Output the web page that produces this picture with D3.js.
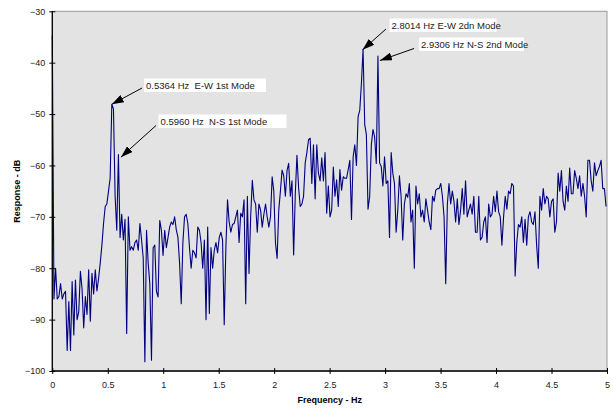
<!DOCTYPE html>
<html>
<head>
<meta charset="utf-8">
<script src="https://cdn.jsdelivr.net/npm/d3@7"></script>
<style>
  body { margin: 0; background: #fff; }
  svg { display: block; font-family: Arial, "Liberation Sans", sans-serif; }
</style>
</head>
<body>
<svg id="chart" width="613" height="408"></svg>
<script>
// Spectrum sampled every STEP Hz, starting at 0 Hz
const STEP = 0.0149;

// Response in dB, one value per frequency bin
const response = [
  -34.7, -86, -80, -86, -85.5, -83, -86, -85, -84.5, -96,
  -86.5, -96, -82.6, -93, -82.3, -90, -88.5, -80.6, -84, -91.6,
  -85.5, -89, -80.3, -90.3, -81, -85, -80.3, -84.4, -82, -79,
  -75.5, -71.3, -68, -67.5, -65, -62.5, -48.1, -49, -66, -72.6,
  -57.9, -74, -69.5, -74.5, -70.5, -92.7, -70, -76.5, -75.8, -76.5,
  -75, -74.5, -76.5, -71.3, -74.5, -78, -98.2, -72.6, -79, -83,
  -97.9, -76, -75.5, -84.5, -85.6, -70.7, -72.6, -77.5,
  // 1 - 2 Hz
  -72.6, -76, -74, -72, -71, -71.5, -70, -72.5, -74, -79,
  -86.9, -75, -70, -69.5, -71.3, -76, -80, -76.5, -77, -78,
  -72, -72.6, -75, -80, -74.5, -90, -72, -88.8, -76, -80,
  -76.5, -75, -77, -74, -73, -74.5, -91, -76, -66.7, -71,
  -73, -71.5, -71.3, -70, -68.7, -75, -69.3, -70, -66.7, -86.9,
  -66, -81, -70, -62.9, -66.7, -67.5, -73, -67.5, -68.7, -72,
  -69.5, -67.5, -70, -72, -70, -62.2, -65,
  // 2 - 3 Hz
  -75, -78.1, -68.7, -65, -60.9, -62, -66, -61, -59.6, -66,
  -63, -77.4, -65.5, -58, -64.3, -68, -67.5, -66, -59.5, -57.5,
  -55, -54.7, -63.5, -56, -66.5, -56, -61.5, -63, -58.5, -63,
  -57.5, -69.3, -64, -70, -68.7, -60.3, -66, -62.8, -68, -60.8,
  -64.8, -62.2, -62.5, -62.5, -60.8, -59, -70.5, -58.3, -56, -60,
  -50.5, -49.3, -44, -37.4, -52, -54, -68.5, -66, -56, -53,
  -54.5, -59.6, -38.7, -59.5, -60.2, -64, -58.3,
  // 3 - 4 Hz
  -63.5, -63, -74, -57.5, -61.5, -63.5, -73, -68.7, -62, -66,
  -74.5, -67.5, -65.5, -66.2, -63.5, -71, -68.7, -80, -64, -67.5,
  -65.5, -70, -68.7, -71, -66.5, -68.7, -71, -72.5, -66, -67,
  -64.8, -64.5, -64.5, -63.5, -66, -70, -83, -67.5, -63.5, -67.5,
  -65, -67, -71, -66.5, -71.5, -68.7, -64.5, -69.5, -63, -70,
  -68.7, -67.5, -69.5, -66, -73, -73, -66, -74.5, -74, -71,
  -70, -75, -67.5, -70, -69.5, -66, -69,
  // 4 - 5 Hz
  -65, -69, -70, -75.5, -70, -66, -68.5, -65, -65.5, -63.5,
  -64, -81.5, -75, -71.5, -72, -70, -75, -70.5, -75.5, -70,
  -69, -71, -71.5, -69, -75.5, -80, -66, -68.7, -64.5, -67.5,
  -66, -66.5, -70, -67, -66.5, -73, -71, -61.5, -65, -61,
  -67, -68.7, -64, -67, -60.5, -65.5, -65.5, -61, -62.5, -64.5,
  -62, -66, -63.5, -66, -70, -59, -59, -63, -65, -59.5,
  -62, -61, -60.2, -59, -64.5, -64.5, -68
];

// Axis ticks
const xTicks = [0, 0.5, 1, 1.5, 2, 2.5, 3, 3.5, 4, 4.5, 5];
const yTicks = [-30, -40, -50, -60, -70, -80, -90, -100];

// Peak call-outs
const peakFreqs = [0.5364, 0.5960, 2.8014, 2.9306];
const peakDb = [-48.1, -57.9, -37.4, -38.7];
const peakLabels = [
  "0.5364 Hz  E-W 1st Mode",
  "0.5960 Hz  N-S 1st Mode",
  "2.8014 Hz E-W 2dn Mode",
  "2.9306 Hz N-S 2nd Mode"
];
// label box position (left, top, width) and arrow tail / tip nudge
const calloutLayout = [
  { bx: 144, by: 78.5, bw: 122, tx: 142, ty: 88, dx: 0, dy: 0 },
  { bx: 158.5, by: 114.5, bw: 128, tx: 156, ty: 125.5, dx: 2.5, dy: 2.5 },
  { bx: 389.5, by: 18.5, bw: 107, tx: 386, ty: 29, dx: -0.5, dy: 0.5 },
  { bx: 419, by: 37.5, bw: 105, tx: 414, ty: 48.5, dx: 2.5, dy: 4.5 }
];

const LEFT = 52.3, RIGHT = 607, TOP = 11.3, BOTTOM = 371;

const svg = d3.select("#chart");

const x = d3.scaleLinear().domain([0, 5]).range([LEFT, RIGHT]);
const y = d3.scaleLinear().domain([-100, -30]).range([BOTTOM, TOP]);

// plot area
svg.append("rect")
  .attr("x", LEFT).attr("y", TOP)
  .attr("width", RIGHT - LEFT).attr("height", BOTTOM - TOP)
  .attr("fill", "#e3e3e3")
  .attr("stroke", "#999")
  .attr("stroke-width", 1);

// the spectrum
const pts = response.map((v, i) => [i * STEP, v]);
const line = d3.line().x((d) => x(d[0])).y((d) => y(d[1]));

svg.append("path")
  .datum(pts)
  .attr("d", line)
  .attr("fill", "none")
  .attr("stroke", "#000080")
  .attr("stroke-width", 1.1)
  .attr("stroke-linejoin", "round");

// axes with ticks crossing the line
const yAxis = svg.append("g")
  .attr("transform", `translate(${LEFT},0)`)
  .call(d3.axisLeft(y).tickValues(yTicks).tickSize(3).tickPadding(4).tickFormat(d3.format("d")));
yAxis.selectAll(".tick line").attr("x1", 3).attr("x2", -3).attr("stroke", "#000");
yAxis.select(".domain").attr("stroke", "#000").attr("stroke-width", 1.3).attr("d", `M0,${TOP}V${BOTTOM}`);
yAxis.selectAll("text").attr("x", -7).style("font-size", "9px").attr("fill", "#222");

const xAxis = svg.append("g")
  .attr("transform", `translate(0,${BOTTOM})`)
  .call(d3.axisBottom(x).tickValues(xTicks).tickSize(3).tickFormat(d3.format("")));
xAxis.selectAll(".tick line").attr("y1", -3).attr("y2", 3).attr("stroke", "#000");
xAxis.select(".domain").attr("stroke", "#000").attr("stroke-width", 1.3).attr("d", `M${LEFT},0H${RIGHT}`);
xAxis.selectAll("text").attr("y", 11).style("font-size", "9px").attr("fill", "#222");

// axis titles
svg.append("text")
  .attr("x", (LEFT + RIGHT) / 2).attr("y", 403)
  .attr("text-anchor", "middle")
  .style("font-size", "9px").style("font-weight", "bold")
  .text("Frequency - Hz");

svg.append("text")
  .attr("transform", `translate(20,${(TOP + BOTTOM) / 2}) rotate(-90)`)
  .attr("text-anchor", "middle")
  .style("font-size", "9px").style("font-weight", "bold")
  .text("Response - dB");

// arrowhead
svg.append("defs").append("marker")
  .attr("id", "arrow")
  .attr("viewBox", "0 0 12 8")
  .attr("refX", 12).attr("refY", 4)
  .attr("markerWidth", 12).attr("markerHeight", 8)
  .attr("markerUnits", "userSpaceOnUse")
  .attr("orient", "auto")
  .append("path").attr("d", "M0,0L12,4L0,8Z").attr("fill", "#000");

const callouts = svg.append("g");
peakFreqs.forEach((f, i) => {
  const c = calloutLayout[i];
  callouts.append("rect")
    .attr("x", c.bx).attr("y", c.by)
    .attr("width", c.bw).attr("height", 13.5)
    .attr("fill", "#fff");
  callouts.append("text")
    .attr("x", c.bx + 2).attr("y", c.by + 10)
    .style("font-size", "9.5px").style("white-space", "pre").attr("fill", "#222")
    .text(peakLabels[i]);
  callouts.append("line")
    .attr("x1", c.tx).attr("y1", c.ty)
    .attr("x2", x(f) + c.dx).attr("y2", y(peakDb[i]) + c.dy)
    .attr("stroke", "#000").attr("stroke-width", 1)
    .attr("marker-end", "url(#arrow)");
});
</script>
</body>
</html>
